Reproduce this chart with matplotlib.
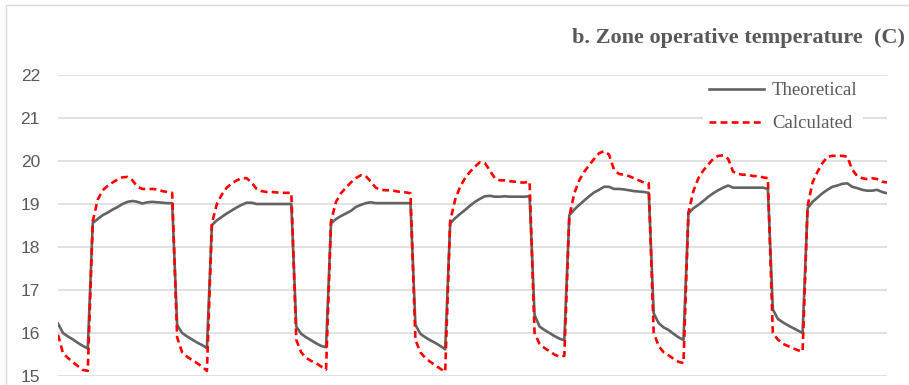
import numpy as np
import matplotlib
matplotlib.use("Agg")
import matplotlib.pyplot as plt
from matplotlib.patches import Rectangle

# Valores horários (7 dias x 24 h)
theoretical = [
    # dia 1
    16.22, 16.00, 15.92, 15.85, 15.77, 15.70, 15.64,
    18.56, 18.65, 18.74, 18.80, 18.87, 18.93, 19.00, 19.05, 19.07, 19.05, 19.01,
    19.04, 19.05, 19.04, 19.03, 19.02, 19.02,
    # dia 2
    16.19, 16.00, 15.92, 15.85, 15.78, 15.72, 15.65,
    18.51, 18.62, 18.70, 18.78, 18.85, 18.92, 18.98, 19.03, 19.03, 19.00, 19.00,
    19.00, 19.00, 19.00, 19.00, 19.00, 19.00,
    # dia 3
    16.15, 15.98, 15.90, 15.83, 15.76, 15.70, 15.67,
    18.55, 18.65, 18.72, 18.78, 18.84, 18.93, 18.98, 19.02, 19.04, 19.02, 19.02,
    19.02, 19.02, 19.02, 19.02, 19.02, 19.02,
    # dia 4
    16.19, 15.98, 15.90, 15.83, 15.77, 15.70, 15.62,
    18.55, 18.67, 18.77, 18.86, 18.96, 19.05, 19.12, 19.18, 19.19, 19.17, 19.17,
    19.18, 19.17, 19.17, 19.17, 19.17, 19.18,
    # dia 5
    16.42, 16.15, 16.07, 16.00, 15.93, 15.87, 15.83,
    18.74, 18.87, 18.98, 19.08, 19.18, 19.27, 19.33, 19.40, 19.40, 19.35, 19.35,
    19.34, 19.32, 19.30, 19.29, 19.28, 19.26,
    # dia 6
    16.46, 16.23, 16.13, 16.07, 15.98, 15.90, 15.84,
    18.78, 18.90, 18.98, 19.07, 19.17, 19.25, 19.32, 19.38, 19.43, 19.38, 19.38,
    19.38, 19.38, 19.38, 19.38, 19.38, 19.35,
    # dia 7
    16.55, 16.33, 16.25, 16.18, 16.12, 16.06, 16.00,
    18.90, 19.05, 19.15, 19.25, 19.33, 19.40, 19.43, 19.47, 19.48, 19.40, 19.37,
    19.33, 19.31, 19.31, 19.33, 19.28, 19.25,
]

calculated = [
    # dia 1
    15.96, 15.53, 15.42, 15.32, 15.23, 15.14, 15.12,
    18.60, 19.10, 19.32, 19.42, 19.50, 19.57, 19.62, 19.63, 19.55, 19.40, 19.35,
    19.35, 19.35, 19.34, 19.30, 19.28, 19.26,
    # dia 2
    15.90, 15.55, 15.45, 15.37, 15.30, 15.22, 15.12,
    18.55, 19.00, 19.22, 19.38, 19.48, 19.55, 19.60, 19.60, 19.50, 19.35, 19.30,
    19.28, 19.28, 19.27, 19.26, 19.26, 19.26,
    # dia 3
    15.84, 15.55, 15.42, 15.35, 15.30, 15.22, 15.15,
    18.60, 19.05, 19.25, 19.38, 19.50, 19.60, 19.67, 19.65, 19.52, 19.38, 19.33,
    19.32, 19.32, 19.30, 19.28, 19.27, 19.25,
    # dia 4
    15.84, 15.55, 15.42, 15.33, 15.25, 15.17, 15.10,
    18.60, 19.10, 19.40, 19.60, 19.75, 19.87, 19.97, 19.95, 19.78, 19.60, 19.55,
    19.55, 19.53, 19.52, 19.50, 19.50, 19.52,
    # dia 5
    16.00, 15.75, 15.65, 15.58, 15.50, 15.45, 15.47,
    18.70, 19.25, 19.55, 19.75, 19.90, 20.05, 20.18, 20.23, 20.15, 19.80, 19.70,
    19.68, 19.65, 19.60, 19.55, 19.50, 19.48,
    # dia 6
    16.00, 15.70, 15.55, 15.48, 15.40, 15.33, 15.30,
    18.80, 19.30, 19.60, 19.78, 19.92, 20.05, 20.12, 20.13, 20.05, 19.75, 19.70,
    19.68, 19.68, 19.65, 19.65, 19.62, 19.60,
    # dia 7
    16.00, 15.85, 15.75, 15.70, 15.65, 15.60, 15.57,
    18.95, 19.50, 19.75, 19.95, 20.10, 20.12, 20.12, 20.12, 20.10, 19.80, 19.65,
    19.60, 19.58, 19.60, 19.58, 19.52, 19.50,
]

y_ticks = [15, 16, 17, 18, 19, 20, 21, 22]
title = "b. Zone operative temperature  (C)"

grey = "#595959"
W, H = 909, 385
fig = plt.figure(figsize=(W / 100, H / 100), dpi=100)

# Borda externa do gráfico
fig.patches.append(Rectangle((6 / W, -0.1), 1.2, (H - 5) / H + 0.1,
                             transform=fig.transFigure, fill=False,
                             edgecolor="#D9D9D9", linewidth=1))

ax = fig.add_axes([58 / W, (H - 376) / H, (887 - 58) / W, (376 - 75) / H])
hours = np.arange(len(theoretical))
ax.plot(hours, theoretical, color="#636363", lw=1.9, label="Theoretical",
        solid_joinstyle="round")
ax.plot(hours, calculated, color="#FF0000", lw=1.9, linestyle=(0, (2.6, 1.6)),
        label="Calculated")

ax.set_xlim(0, len(theoretical) - 1)
ax.set_ylim(15, 22)
ax.set_yticks(y_ticks)
ax.set_xticks([])
ax.grid(axis="y", color="#D9D9D9", lw=1.1)
ax.set_axisbelow(True)
for s in ax.spines.values():
    s.set_visible(False)
ax.tick_params(axis="y", length=0, pad=13, labelsize=12.5, labelcolor=grey)
for t in ax.get_yticklabels():
    t.set_fontfamily("Liberation Sans")

fig.text(905 / W, 1 - 38 / H, title, ha="right", va="center",
         fontsize=16, fontweight="bold", family="Liberation Serif", color=grey)

leg = fig.legend(loc="upper left", bbox_to_anchor=(694 / W, 1 - 67 / H),
                 frameon=True, fancybox=False, facecolor="white",
                 edgecolor="none", framealpha=1, handlelength=2.95,
                 handletextpad=0.4, labelspacing=0.85, borderpad=0.3,
                 prop={"family": "Liberation Serif", "size": 13.5})
for t in leg.get_texts():
    t.set_color(grey)

plt.savefig("out.png", dpi=100)
plt.close()
